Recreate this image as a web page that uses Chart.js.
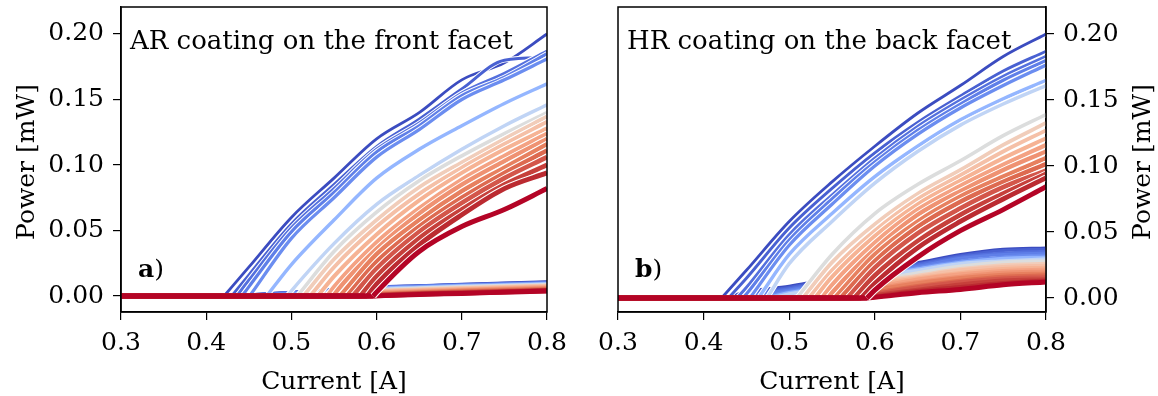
<!DOCTYPE html>
<html>
<head>
<meta charset="utf-8">
<script src="https://cdn.jsdelivr.net/npm/chart.js@4.4.1/dist/chart.umd.min.js"></script>
<style>
  body { margin: 0; background: #fff; }
  #wrap { position: relative; width: 1158px; height: 396px; }
  .panel { position: absolute; top: 0; width: 579px; height: 396px; }
</style>
</head>
<body>
<div id="wrap">
  <div class="panel" style="left:0"><canvas id="frontCanvas" width="579" height="396"></canvas></div>
  <div class="panel" style="left:579px"><canvas id="backCanvas" width="579" height="396"></canvas></div>
</div>
<script>
// currents [A] where the power curves are sampled
var currents = [0.45, 0.50, 0.55, 0.60, 0.65, 0.70, 0.75, 0.80];

// front facet (AR coating): threshold current per device, then power [mW]
var onsetFront = [0.421, 0.430, 0.436, 0.442, 0.451, 0.471, 0.495, 0.507, 0.514, 0.522,
                  0.531, 0.542, 0.549, 0.557, 0.565, 0.572, 0.581, 0.589, 0.596];
var upperFront = [
  [0.022, 0.060, 0.090, 0.120, 0.140, 0.165, 0.178, 0.200],
  [0.016, 0.055, 0.085, 0.114, 0.135, 0.158, 0.180, 0.182],
  [0.012, 0.052, 0.082, 0.112, 0.132, 0.155, 0.170, 0.187],
  [0.007, 0.049, 0.079, 0.110, 0.130, 0.153, 0.167, 0.185],
  [null, 0.044, 0.075, 0.106, 0.127, 0.150, 0.165, 0.181],
  [null, 0.024, 0.058, 0.090, 0.112, 0.130, 0.147, 0.162],
  [null, 0.004, 0.040, 0.070, 0.092, 0.112, 0.130, 0.146],
  [null, null, 0.034, 0.064, 0.088, 0.107, 0.124, 0.140],
  [null, null, 0.028, 0.058, 0.083, 0.102, 0.120, 0.137],
  [null, null, 0.022, 0.053, 0.078, 0.098, 0.116, 0.133],
  [null, null, 0.015, 0.047, 0.073, 0.094, 0.112, 0.128],
  [null, null, 0.007, 0.041, 0.067, 0.089, 0.107, 0.124],
  [null, null, 0.001, 0.036, 0.063, 0.085, 0.103, 0.120],
  [null, null, null, 0.032, 0.058, 0.080, 0.098, 0.116],
  [null, null, null, 0.026, 0.053, 0.075, 0.094, 0.111],
  [null, null, null, 0.021, 0.049, 0.071, 0.090, 0.106],
  [null, null, null, 0.015, 0.044, 0.066, 0.085, 0.100],
  [null, null, null, 0.009, 0.039, 0.062, 0.082, 0.094],
  [null, null, null, 0.003, 0.034, 0.053, 0.066, 0.082]
];
var lowerFront = [
  [0.0010, 0.0030, 0.0050, 0.0070, 0.0080, 0.0090, 0.0100, 0.0110],
  [0.0008, 0.0028, 0.0048, 0.0068, 0.0078, 0.0088, 0.0097, 0.0106],
  [0.0005, 0.0026, 0.0046, 0.0066, 0.0076, 0.0086, 0.0094, 0.0103],
  [0.0003, 0.0024, 0.0044, 0.0064, 0.0074, 0.0084, 0.0092, 0.0100],
  [null, 0.0022, 0.0042, 0.0062, 0.0072, 0.0082, 0.0090, 0.0098],
  [null, 0.0012, 0.0036, 0.0058, 0.0068, 0.0078, 0.0086, 0.0094],
  [null, 0.0002, 0.0028, 0.0050, 0.0062, 0.0072, 0.0081, 0.0090],
  [null, null, 0.0024, 0.0045, 0.0058, 0.0068, 0.0077, 0.0085],
  [null, null, 0.0020, 0.0040, 0.0052, 0.0062, 0.0071, 0.0080],
  [null, null, 0.0015, 0.0035, 0.0047, 0.0058, 0.0067, 0.0075],
  [null, null, 0.0010, 0.0030, 0.0042, 0.0052, 0.0061, 0.0070],
  [null, null, 0.0004, 0.0025, 0.0037, 0.0048, 0.0057, 0.0065],
  [null, null, 0.0001, 0.0020, 0.0032, 0.0042, 0.0051, 0.0060],
  [null, null, null, 0.0015, 0.0028, 0.0038, 0.0047, 0.0055],
  [null, null, null, 0.0010, 0.0023, 0.0032, 0.0041, 0.0050],
  [null, null, null, 0.0008, 0.0020, 0.0028, 0.0037, 0.0045],
  [null, null, null, 0.0005, 0.0017, 0.0025, 0.0034, 0.0042],
  [null, null, null, 0.0002, 0.0014, 0.0022, 0.0031, 0.0040],
  [null, null, null, 0.0001, 0.0012, 0.0020, 0.0029, 0.0038]
];

// back facet (HR coating)
var onsetBack = [0.421, 0.429, 0.439, 0.446, 0.454, 0.464, 0.474, 0.509, 0.516, 0.523,
                 0.530, 0.538, 0.545, 0.553, 0.560, 0.568, 0.576, 0.584, 0.591];
var upperBack = [
  [0.021, 0.058, 0.088, 0.115, 0.140, 0.161, 0.183, 0.200],
  [0.015, 0.053, 0.083, 0.110, 0.133, 0.153, 0.172, 0.187],
  [0.008, 0.048, 0.078, 0.106, 0.130, 0.150, 0.168, 0.183],
  [0.003, 0.044, 0.075, 0.103, 0.127, 0.147, 0.165, 0.180],
  [null, 0.040, 0.071, 0.100, 0.124, 0.144, 0.161, 0.1765],
  [null, 0.033, 0.064, 0.092, 0.115, 0.135, 0.151, 0.165],
  [null, 0.026, 0.058, 0.087, 0.111, 0.131, 0.147, 0.161],
  [null, null, 0.033, 0.064, 0.086, 0.104, 0.123, 0.139],
  [null, null, 0.027, 0.056, 0.079, 0.097, 0.116, 0.1326],
  [null, null, 0.021, 0.051, 0.075, 0.093, 0.111, 0.127],
  [null, null, 0.016, 0.047, 0.071, 0.089, 0.106, 0.121],
  [null, null, 0.010, 0.042, 0.067, 0.085, 0.101, 0.116],
  [null, null, 0.004, 0.037, 0.063, 0.081, 0.097, 0.111],
  [null, null, null, 0.033, 0.058, 0.077, 0.092, 0.106],
  [null, null, null, 0.028, 0.054, 0.073, 0.088, 0.1015],
  [null, null, null, 0.023, 0.049, 0.068, 0.084, 0.0965],
  [null, null, null, 0.017, 0.043, 0.063, 0.079, 0.094],
  [null, null, null, 0.011, 0.038, 0.058, 0.075, 0.091],
  [null, null, null, 0.006, 0.031, 0.051, 0.067, 0.0843]
];
var lowerBack = [
  [0.0050, 0.0090, 0.0150, 0.0220, 0.0270, 0.0330, 0.0370, 0.0380],
  [0.0040, 0.0080, 0.0140, 0.0210, 0.0260, 0.0320, 0.0360, 0.0370],
  [0.0020, 0.0070, 0.0130, 0.0200, 0.0250, 0.0310, 0.0340, 0.0355],
  [0.0010, 0.0060, 0.0120, 0.0190, 0.0240, 0.0300, 0.0330, 0.0340],
  [null, 0.0050, 0.0110, 0.0180, 0.0230, 0.0280, 0.0310, 0.0325],
  [null, 0.0040, 0.0100, 0.0170, 0.0220, 0.0270, 0.0300, 0.0310],
  [null, 0.0030, 0.0090, 0.0160, 0.0210, 0.0260, 0.0280, 0.0295],
  [null, null, 0.0060, 0.0130, 0.0190, 0.0240, 0.0270, 0.0280],
  [null, null, 0.0050, 0.0120, 0.0170, 0.0220, 0.0250, 0.0260],
  [null, null, 0.0040, 0.0110, 0.0160, 0.0210, 0.0235, 0.0245],
  [null, null, 0.0030, 0.0100, 0.0150, 0.0190, 0.0220, 0.0230],
  [null, null, 0.0020, 0.0080, 0.0140, 0.0180, 0.0205, 0.0215],
  [null, null, 0.0010, 0.0070, 0.0120, 0.0160, 0.0190, 0.0200],
  [null, null, null, 0.0060, 0.0110, 0.0150, 0.0175, 0.0185],
  [null, null, null, 0.0040, 0.0090, 0.0130, 0.0160, 0.0170],
  [null, null, null, 0.0030, 0.0080, 0.0120, 0.0145, 0.0155],
  [null, null, null, 0.0020, 0.0060, 0.0100, 0.0130, 0.0140],
  [null, null, null, 0.0010, 0.0050, 0.0080, 0.0110, 0.0130],
  [null, null, null, 0.0005, 0.0040, 0.0065, 0.0100, 0.0122]
];

// blue -> grey -> red, one colour per device
var lineColors = ['#3b4cc0', '#4961d2', '#5470de', '#5f7fe8', '#6b8df0', '#94b6ff', '#c0d4f5',
                  '#dcdddd', '#f1cdba', '#f5c0a7', '#f6b394', '#f4a283', '#ef9272', '#e7805f',
                  '#dd6a50', '#d3564a', '#c6403b', '#bb2b31', '#b40426'];

var serif = '"DejaVu Serif", serif';
var fontSize = 25;
Chart.defaults.color = '#000';

// samples from the threshold onwards
function risePoints(onset, values) {
  var pts = [{x: onset, y: 0}];
  for (var i = 0; i < currents.length; i++) {
    if (values[i] !== null && currents[i] > onset) {
      pts.push({x: currents[i], y: values[i]});
    }
  }
  return pts;
}

function buildDatasets(onsets, uppers, lowers) {
  var sets = [];
  for (var k = 0; k < onsets.length; k++) {
    var w = 2.8 + 0.12 * k;
    var c = lineColors[k];
    var rise = risePoints(onsets[k], uppers[k]);
    sets.push({data: [{x: 0.3, y: 0}].concat(risePoints(onsets[k], lowers[k])),
               borderColor: c, borderWidth: w, cubicInterpolationMode: 'monotone'});
    sets.push({data: [{x: 0.3, y: 0}, {x: onsets[k], y: 0}], borderColor: c, borderWidth: w});
    // white halo under each lasing curve
    sets.push({data: rise, borderColor: '#ffffff', borderWidth: w + 2, cubicInterpolationMode: 'monotone'});
    sets.push({data: rise, borderColor: c, borderWidth: w, cubicInterpolationMode: 'monotone'});
  }
  // Chart.js paints the lowest order last, so later sets get a lower order
  sets.forEach(function (s, i) {
    s.order = -i;
    s.showLine = true;
    s.pointRadius = 0;
    s.fill = false;
    s.borderJoinStyle = 'round';
  });
  return sets;
}

var panelText = {
  id: 'panelText',
  afterDraw: function (chart, args, o) {
    var ctx = chart.ctx;
    var a = chart.chartArea;
    ctx.save();
    ctx.strokeStyle = '#000';
    ctx.lineWidth = 1.5;
    ctx.strokeRect(a.left, a.top, a.right - a.left, a.bottom - a.top);

    ctx.fillStyle = '#000';
    ctx.textBaseline = 'alphabetic';
    ctx.textAlign = 'left';
    ctx.font = '26px ' + serif;
    ctx.fillText(o.heading, a.left + 9, 49);

    // panel tag: bold letter, plain bracket
    ctx.font = 'bold ' + fontSize + 'px ' + serif;
    ctx.fillText(o.tag, a.left + 17, 277);
    var tw = ctx.measureText(o.tag).width;
    ctx.font = fontSize + 'px ' + serif;
    ctx.fillText(')', a.left + 17 + tw, 277);

    ctx.textAlign = 'center';
    ctx.fillText('Current [A]', (a.left + a.right) / 2, 389);

    ctx.translate(o.yTitleX, 162);
    ctx.rotate(-Math.PI / 2);
    ctx.fillText('Power [mW]', 0, 0);
    ctx.restore();
  }
};

function makeChart(canvasId, onsets, uppers, lowers, side, yMin, yMax, text) {
  var font = {family: serif, size: fontSize};
  var ctx = document.getElementById(canvasId).getContext('2d');
  return new Chart(ctx, {
    type: 'scatter',
    data: {datasets: buildDatasets(onsets, uppers, lowers)},
    plugins: [panelText],
    options: {
      responsive: false,
      animation: false,
      devicePixelRatio: 1,
      layout: {padding: side === 'left' ? {left: 0, right: 32, top: 7, bottom: 0}
                                        : {left: 39, right: 0, top: 7, bottom: 0}},
      plugins: {
        legend: {display: false},
        tooltip: {enabled: false},
        panelText: text
      },
      scales: {
        x: {
          type: 'linear', min: 0.3, max: 0.8,
          ticks: {stepSize: 0.1, includeBounds: false, autoSkip: false, maxRotation: 0,
                  padding: 8, font: font, color: '#000',
                  callback: function (v) { return v.toFixed(1); }},
          grid: {drawOnChartArea: false, tickLength: 8, color: '#000', lineWidth: 1.2},
          border: {color: '#000', width: 1.5},
          afterFit: function (s) { s.height = 84; s.paddingLeft = 0; s.paddingRight = 0; }
        },
        y: {
          type: 'linear', position: side, min: yMin, max: yMax,
          ticks: {stepSize: 0.05, includeBounds: false, autoSkip: false,
                  padding: 9, font: font, color: '#000',
                  callback: function (v) { return v.toFixed(2); }},
          grid: {drawOnChartArea: false, tickLength: 8, color: '#000', lineWidth: 1.2},
          border: {color: '#000', width: 1.5},
          afterFit: function (s) {
            s.width = side === 'left' ? 121 : 112;
            s.paddingTop = 0; s.paddingBottom = 0;
          }
        }
      }
    }
  });
}

makeChart('frontCanvas', onsetFront, upperFront, lowerFront, 'left', -0.0122, 0.2206,
          {heading: 'AR coating on the front facet', tag: 'a', yTitleX: 34});
makeChart('backCanvas', onsetBack, upperBack, lowerBack, 'right', -0.0106, 0.2205,
          {heading: 'HR coating on the back facet', tag: 'b', yTitleX: 571});
</script>
</body>
</html>
